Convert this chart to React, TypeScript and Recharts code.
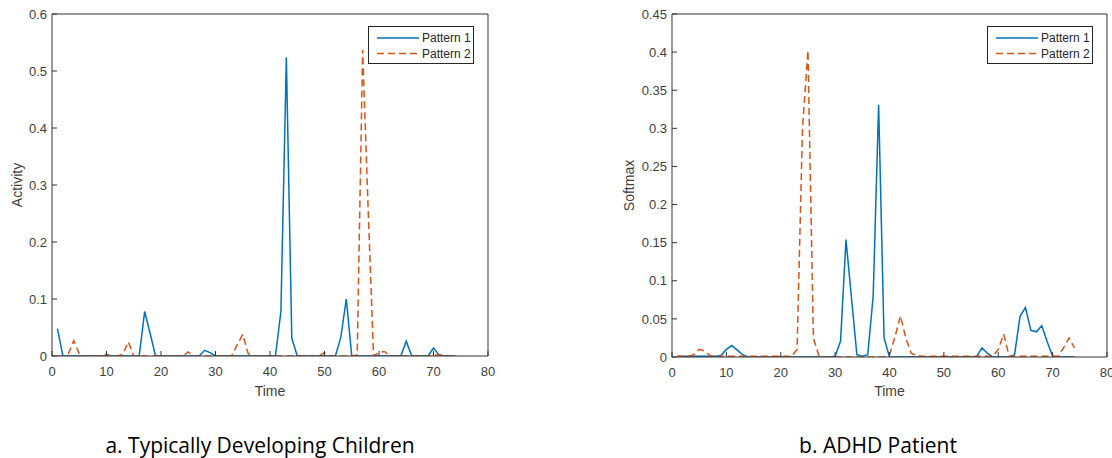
import React from 'react';
import { LineChart, Line, XAxis, YAxis, Legend, Label } from 'recharts';

const time = [
  1, 2, 3, 4, 5, 6, 7, 8, 9, 10, 11, 12, 13, 14, 15, 16, 17, 18, 19, 20,
  21, 22, 23, 24, 25, 26, 27, 28, 29, 30, 31, 32, 33, 34, 35, 36, 37, 38, 39, 40,
  41, 42, 43, 44, 45, 46, 47, 48, 49, 50, 51, 52, 53, 54, 55, 56, 57, 58, 59, 60,
  61, 62, 63, 64, 65, 66, 67, 68, 69, 70, 71, 72, 73, 74,
];

// a. Typically Developing Children (Activity)
const tdcPattern1 = [
  0.048, 0, 0, 0, 0, 0, 0, 0, 0, 0, 0, 0, 0, 0, 0, 0, 0.078, 0.04, 0, 0,
  0, 0, 0, 0, 0, 0, 0, 0.01, 0.006, 0, 0, 0, 0, 0, 0, 0, 0, 0, 0, 0,
  0, 0.078, 0.524, 0.031, 0, 0, 0, 0, 0, 0, 0, 0, 0.033, 0.1, 0, 0, 0, 0, 0, 0,
  0, 0, 0, 0, 0.026, 0, 0, 0, 0, 0.014, 0.002, 0, 0, 0,
];
const tdcPattern2 = [
  0, 0, 0.004, 0.027, 0.004, 0, 0, 0, 0, 0.003, 0, 0, 0.003, 0.025, 0, 0, 0, 0, 0, 0,
  0, 0, 0, 0, 0.007, 0, 0, 0, 0, 0, 0, 0, 0.001, 0.02, 0.038, 0.004, 0, 0, 0, 0,
  0, 0, 0, 0, 0, 0, 0, 0, 0, 0.006, 0, 0, 0, 0, 0, 0.002, 0.537, 0.26, 0, 0.006,
  0.008, 0, 0, 0, 0, 0, 0, 0, 0, 0.001, 0.002, 0.001, 0, 0,
];

// b. ADHD Patient (Softmax)
const adhdPattern1 = [
  0.001, 0.001, 0.001, 0.001, 0.001, 0.001, 0.001, 0.001, 0.002, 0.01, 0.015, 0.009, 0.003, 0, 0, 0, 0, 0, 0, 0,
  0, 0, 0, 0, 0, 0, 0, 0, 0, 0.001, 0.021, 0.154, 0.078, 0.003, 0.001, 0.003, 0.08, 0.331, 0.025, 0,
  0, 0, 0, 0, 0, 0, 0, 0, 0, 0, 0, 0, 0, 0, 0, 0, 0.012, 0.005, 0, 0,
  0, 0, 0.003, 0.053, 0.065, 0.035, 0.033, 0.041, 0.02, 0.001, 0, 0, 0, 0,
];
const adhdPattern2 = [
  0.001, 0.001, 0.001, 0.003, 0.01, 0.008, 0.002, 0, 0.001, 0.001, 0.001, 0.001, 0.001, 0.001, 0.001, 0.001, 0.001, 0.001, 0.001, 0.001,
  0.001, 0.001, 0.01, 0.3, 0.402, 0.025, 0.002, 0, 0, 0, 0, 0, 0, 0, 0, 0, 0, 0, 0, 0.003,
  0.026, 0.054, 0.025, 0.005, 0.002, 0.001, 0.001, 0.001, 0.001, 0.001, 0.001, 0.001, 0.001, 0.001, 0.001, 0.001, 0.001, 0.001, 0.001, 0.01,
  0.03, 0.001, 0.001, 0.001, 0.001, 0.001, 0.001, 0.001, 0.001, 0.001, 0.001, 0.012, 0.025, 0.012,
];

const xTicks = [0, 10, 20, 30, 40, 50, 60, 70, 80];
const tdcYTicks = [0, 0.1, 0.2, 0.3, 0.4, 0.5, 0.6];
const adhdYTicks = [0, 0.05, 0.1, 0.15, 0.2, 0.25, 0.3, 0.35, 0.4, 0.45];
const seriesNames = ['Pattern 1', 'Pattern 2'];
const xLabel = 'Time';
const yLabels = ['Activity', 'Softmax'];
const panelTitles = ['a. Typically Developing Children', 'b. ADHD Patient'];

const BLUE = '#0072BD';
const ORANGE = '#D95319';
const AXIS = '#333333';
const FONT = '"Liberation Sans", Arial, sans-serif';

const buildRows = (p1: number[], p2: number[]) =>
  time.map((t, i) => ({ t, p1: p1[i], p2: p2[i] }));

const tdcRows = buildRows(tdcPattern1, tdcPattern2);
const adhdRows = buildRows(adhdPattern1, adhdPattern2);

const LegendBox = () => (
  <svg width={106} height={38} style={{ display: 'block' }}>
    <rect x={0.5} y={0.5} width={105} height={37} fill="#fff" stroke="#262626" strokeWidth={1} />
    <line x1={9} x2={51} y1={12} y2={12} stroke={BLUE} strokeWidth={1.5} />
    <text x={54} y={12} dominantBaseline="central" fontSize={12} fontFamily={FONT} fill="#262626">
      {seriesNames[0]}
    </text>
    <line x1={9} x2={51} y1={27.5} y2={27.5} stroke={ORANGE} strokeWidth={1.5} strokeDasharray="7 4" />
    <text x={54} y={27.5} dominantBaseline="central" fontSize={12} fontFamily={FONT} fill="#262626">
      {seriesNames[1]}
    </text>
  </svg>
);

type PanelProps = {
  rows: { t: number; p1: number; p2: number }[];
  yTicks: number[];
  yMax: number;
  yLabel: string;
  margin: { top: number; right: number; bottom: number; left: number };
  yAxisWidth: number;
  yLabelOffset: number;
  xLabelOffset: number;
  legendLeft: number;
};

const tickStyle = { fill: '#404040', fontSize: 13, fontFamily: FONT };

const Panel = ({ rows, yTicks, yMax, yLabel, margin, yAxisWidth, yLabelOffset, xLabelOffset, legendLeft }: PanelProps) => (
  <LineChart width={556} height={400} data={rows} margin={margin}>
    <XAxis
      dataKey="t"
      type="number"
      domain={[0, 80]}
      ticks={xTicks}
      interval={0}
      allowDataOverflow
      height={30}
      tickSize={-5}
      tickMargin={16}
      tick={tickStyle}
      axisLine={{ stroke: AXIS }}
      tickLine={{ stroke: AXIS }}
    >
      <Label value={xLabel} position="bottom" offset={xLabelOffset} style={{ fill: '#404040', fontSize: 14, fontFamily: FONT }} />
    </XAxis>
    <XAxis
      xAxisId="top"
      dataKey="t"
      orientation="top"
      type="number"
      domain={[0, 80]}
      ticks={xTicks}
      interval={0}
      allowDataOverflow
      height={1}
      tickSize={-5}
      tick={false}
      axisLine={{ stroke: AXIS }}
      tickLine={{ stroke: AXIS }}
    />
    <YAxis
      type="number"
      domain={[0, yMax]}
      ticks={yTicks}
      interval={0}
      allowDataOverflow
      width={yAxisWidth}
      tickSize={-5}
      tickMargin={10}
      tick={tickStyle}
      tickFormatter={(v: number) => String(v)}
      axisLine={{ stroke: AXIS }}
      tickLine={{ stroke: AXIS }}
    >
      <Label
        value={yLabel}
        angle={-90}
        position="insideLeft"
        offset={yLabelOffset}
        style={{ fill: '#404040', fontSize: 14, fontFamily: FONT, textAnchor: 'middle' }}
      />
    </YAxis>
    <YAxis
      yAxisId="right"
      orientation="right"
      type="number"
      domain={[0, yMax]}
      ticks={yTicks}
      interval={0}
      allowDataOverflow
      width={1}
      tickSize={-5}
      tick={false}
      axisLine={{ stroke: AXIS }}
      tickLine={{ stroke: AXIS }}
    />
    <Line
      xAxisId="top"
      yAxisId="right"
      dataKey="p1"
      stroke="none"
      strokeWidth={0}
      legendType="none"
      dot={false}
      activeDot={false}
      isAnimationActive={false}
    />
    <Line dataKey="p1" name={seriesNames[0]} type="linear" stroke={BLUE} strokeWidth={1.5} dot={false} activeDot={false} isAnimationActive={false} />
    <Line dataKey="p2" name={seriesNames[1]} type="linear" stroke={ORANGE} strokeWidth={1.5} strokeDasharray="7 4" dot={false} activeDot={false} isAnimationActive={false} />
    <Legend
      layout="horizontal"
      verticalAlign="middle"
      align="center"
      content={() => <LegendBox />}
      wrapperStyle={{ left: legendLeft, top: 26, width: 106, height: 38 }}
    />
  </LineChart>
);

const titleStyle: React.CSSProperties = {
  position: 'absolute',
  top: 433,
  width: 440,
  textAlign: 'center',
  fontFamily: '"Open Sans", sans-serif',
  fontSize: 21,
  fontWeight: 500,
  color: '#000',
  lineHeight: '24px',
  whiteSpace: 'nowrap',
};

export default function App() {
  return (
    <div style={{ position: 'absolute', left: 0, top: 0, width: 1112, height: 458, background: '#fff' }}>
      <div style={{ position: 'absolute', left: 0, top: 0 }}>
        <Panel
          rows={tdcRows}
          yTicks={tdcYTicks}
          yMax={0.6}
          yLabel={yLabels[0]}
          margin={{ top: 13, right: 67, bottom: 14, left: 12 }}
          yAxisWidth={40}
          yLabelOffset={5}
          xLabelOffset={0}
          legendLeft={368}
        />
      </div>
      <div style={{ position: 'absolute', left: 556, top: 0 }}>
        <Panel
          rows={adhdRows}
          yTicks={adhdYTicks}
          yMax={0.45}
          yLabel={yLabels[1]}
          margin={{ top: 13, right: 4, bottom: 13, left: 70 }}
          yAxisWidth={46}
          yLabelOffset={3}
          xLabelOffset={-1}
          legendLeft={431}
        />
      </div>
      <div style={{ ...titleStyle, left: 260 - 220 }}>{panelTitles[0]}</div>
      <div style={{ ...titleStyle, left: 878 - 220 }}>{panelTitles[1]}</div>
    </div>
  );
}
